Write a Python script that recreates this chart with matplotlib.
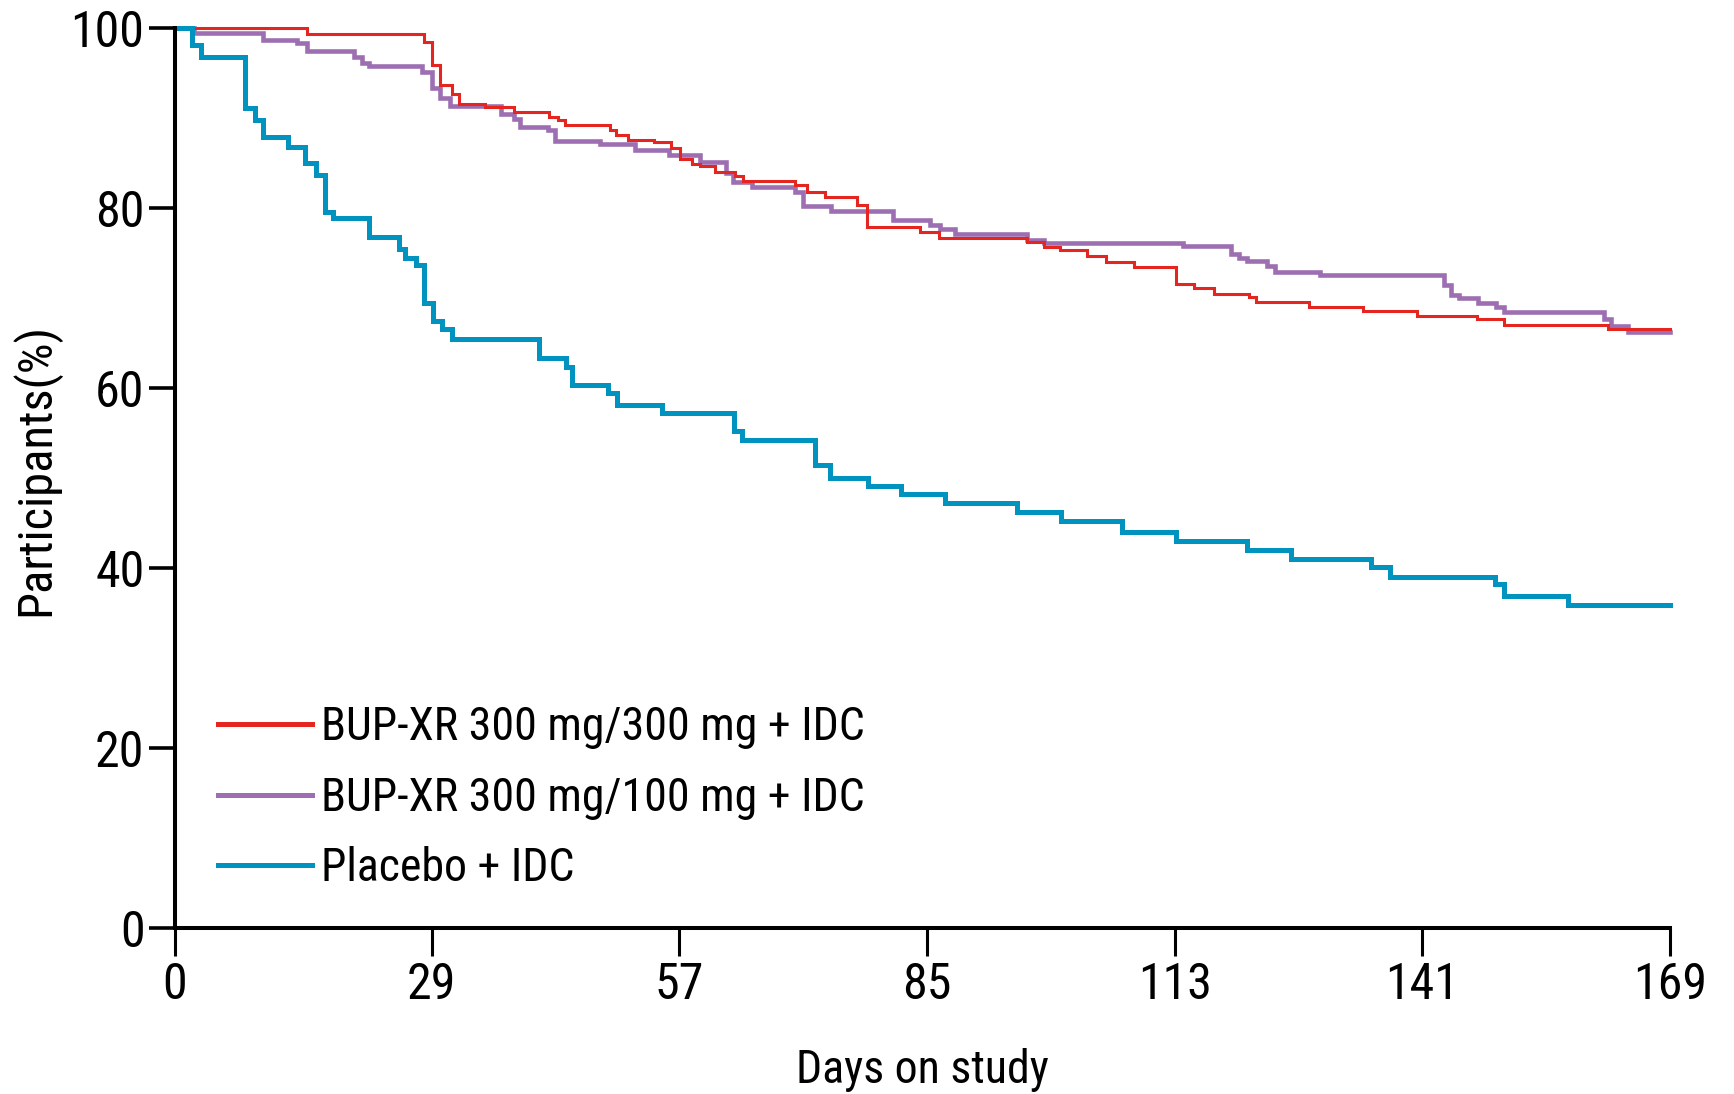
#!/usr/bin/env python3
"""KM-style retention curves: participants remaining on study by arm."""

import matplotlib
matplotlib.use("Agg")
import matplotlib.pyplot as plt

plt.rcParams["font.family"] = ["Roboto Condensed", "Open Sans Condensed",
                               "Noto Sans Condensed", "DejaVu Sans"]
plt.rcParams["font.stretch"] = "condensed"

# step points: day at which each level starts, and the level (%)
red_days = [0, 14.9, 28.2, 29.1, 30.0, 31.3, 32.1, 35.1, 38.3, 42.3, 43.3, 44.1,
            49.2, 49.9, 51.2, 54.1, 56.1, 57.1, 58.4, 59.3, 61.1, 63.3, 64.2,
            70.1, 71.4, 73.5, 77.1, 78.2, 84.2, 86.4, 96.3, 98.2, 100.1, 103.1,
            105.3, 108.4, 113.2, 115.2, 117.4, 121.4, 122.2, 128.2, 134.3,
            140.4, 147.2, 150.2, 162.0, 169]
red_pct = [100, 99.3, 98.4, 95.9, 93.7, 92.7, 91.6, 91.2, 90.7, 90.1, 89.8, 89.2,
           88.7, 88.1, 87.6, 87.3, 86.7, 85.4, 84.9, 84.7, 84.0, 83.6, 83.0,
           82.6, 81.8, 81.2, 80.3, 77.9, 77.3, 76.7, 76.2, 75.7, 75.3, 74.7,
           74.0, 73.4, 71.6, 71.1, 70.5, 70.1, 69.6, 69.0, 68.6,
           68.0, 67.7, 67.0, 66.6, 66.6]

purple_days = [0, 2.1, 10.0, 13.8, 14.9, 20.2, 21.1, 21.9, 27.9, 29.0, 30.0, 31.1,
               36.9, 38.3, 39.0, 42.2, 43.0, 48.1, 52.0, 55.8, 59.3, 62.3, 63.1,
               65.2, 70.1, 71.0, 74.2, 81.2, 85.4, 86.5, 88.2, 96.3, 98.2, 114.0,
               119.4, 120.3, 121.2, 123.4, 124.4, 129.4, 143.4, 144.2, 145.2,
               147.3, 149.3, 150.2, 161.5, 162.3, 164.3, 169]
purple_pct = [100, 99.4, 98.7, 98.3, 97.5, 96.8, 96.1, 95.8, 95.1, 93.3, 92.2, 91.3,
              90.5, 89.9, 89.0, 88.7, 87.4, 87.1, 86.4, 85.9, 85.1, 83.9, 82.9,
              82.3, 81.8, 80.2, 79.7, 78.7, 78.1, 77.7, 77.1, 76.4, 76.1, 75.8,
              74.9, 74.5, 74.1, 73.6, 72.9, 72.6, 71.4, 70.3, 70.0,
              69.4, 69.0, 68.4, 67.7, 66.9, 66.2, 66.2]

blue_days = [0, 1.9, 2.9, 7.9, 9.1, 10.0, 12.8, 14.7, 15.9, 17.0, 17.9, 21.9, 25.3,
             26.0, 27.2, 28.1, 29.2, 30.2, 31.3, 41.1, 44.2, 44.9, 49.0, 50.0,
             55.0, 63.2, 64.1, 72.3, 74.1, 78.3, 82.1, 87.1, 95.2, 100.2, 107.1,
             113.2, 121.2, 126.2, 135.2, 137.4, 149.2, 150.2, 157.5, 169]
blue_pct = [100, 98.1, 96.8, 91.1, 89.8, 87.9, 86.8, 85.0, 83.7, 79.6, 78.9, 76.8, 75.5,
            74.4, 73.7, 69.4, 67.4, 66.6, 65.5, 63.3, 62.3, 60.3, 59.4, 58.1,
            57.2, 55.2, 54.2, 51.4, 50.0, 49.1, 48.2, 47.2, 46.2, 45.2, 44.0,
            43.0, 42.0, 41.0, 40.1, 39.0, 38.2, 36.9, 35.9, 35.9]

x_ticks = [0, 29, 57, 85, 113, 141, 169]
y_ticks = [0, 20, 40, 60, 80, 100]

SERIES = [
    (purple_days, purple_pct, "BUP-XR 300 mg/100 mg + IDC", "#9d6fb2", 3.3),
    (red_days, red_pct, "BUP-XR 300 mg/300 mg + IDC", "#e52620", 2.2),
    (blue_days, blue_pct, "Placebo + IDC", "#0093bf", 3.6),
]

fig = plt.figure(figsize=(17.34, 10.94), dpi=100)
ax = fig.add_axes([0.1009, 0.1517, 0.8622, 0.8227])

lines = {}
for days, pct, label, color, lw in SERIES:
    (ln,) = ax.step(days, pct, where="post", color=color, linewidth=lw,
                    label=label, clip_on=False, solid_joinstyle="miter")
    lines[label] = ln

ax.set_xlim(0, 169)
ax.set_ylim(0, 100)
ax.set_xticks(x_ticks)
ax.set_yticks(y_ticks)
ax.tick_params(axis="y", length=19, width=2.6, labelsize=36, pad=3, direction="out")
ax.tick_params(axis="x", length=20, width=2.2, labelsize=36, pad=4, direction="out")
for s in ("top", "right"):
    ax.spines[s].set_visible(False)
for s in ("left", "bottom"):
    ax.spines[s].set_linewidth(2.9)

ax.set_xlabel("Days on study", fontsize=33, labelpad=28)
ax.set_ylabel("Participants(%)", fontsize=35)
ax.yaxis.set_label_coords(-0.077, 0.51)

order = ["BUP-XR 300 mg/300 mg + IDC", "BUP-XR 300 mg/100 mg + IDC", "Placebo + IDC"]
leg = ax.legend([lines[k] for k in order], order, loc="lower left",
                bbox_to_anchor=(0.029, 0.042), frameon=False, fontsize=33,
                handlelength=2.05, handletextpad=0.2, labelspacing=0.58,
                borderpad=0, borderaxespad=0)
for ln in leg.get_lines():
    ln.set_linewidth(3.6)

fig.savefig("out.png", dpi=100)
print("wrote out.png")
